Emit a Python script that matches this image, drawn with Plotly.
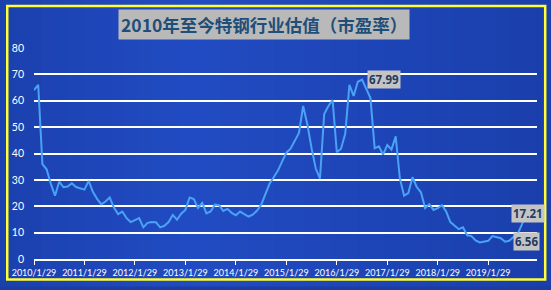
import plotly.graph_objects as go

# ---- data ----
months = [f"{2010 + i // 12}/{i % 12 + 1}/29" for i in range(118)]
pe = [
    64, 66, 36, 34, 28.5, 24, 29.3, 27.2, 27.5, 28.7, 27.3, 26.8,      # 2010
    26.3, 29.6, 25.5, 22.8, 20.7, 21.8, 23.3, 19.5, 17, 18, 15.5, 14,   # 2011
    14.8, 15.5, 12, 13.7, 14, 13.9, 12, 12.6, 14, 16.7, 14.9, 17.2,     # 2012
    18.6, 23.3, 22.7, 19.4, 21.3, 17.3, 18, 20.6, 20.4, 18.2, 19, 17.5, # 2013
    16.6, 18, 17, 16.1, 16.8, 18.3, 20.5, 24.6, 28.5, 31, 33.5, 37,     # 2014
    40.3, 41.8, 45, 47.8, 58, 51, 42, 34.3, 30.5, 55, 58, 60.3,         # 2015
    40.5, 41.8, 47.5, 66, 61.8, 67.2, 67.99, 64.3, 61, 42, 42.7, 39.6,  # 2016
    43.2, 41.5, 46.5, 30.5, 24, 25, 31, 27.3, 25.3, 19.3, 20.8, 18.6,   # 2017
    19.3, 20.4, 18, 14, 12.8, 11.3, 12, 9, 8.7, 7, 6.3, 6.5,            # 2018
    6.9, 8.7, 8.2, 7.9, 6.56, 6.9, 8.3, 9.5, 13, 17.21,                 # 2019
]
tick_labels = [f"{y}/1/29" for y in range(2010, 2020)]
tick_vals = [f"{y}/1/29" for y in range(2010, 2020)]
y_ticks = [0, 10, 20, 30, 40, 50, 60, 70, 80]
title_text = "2010年至今特钢行业估值（市盈率）"
labelled = [(78, "67.99", "left", 5), (112, "6.56", "left", 8), (117, "17.21", "center", 2)]

fig = go.Figure()
fig.add_trace(go.Scatter(
    x=months, y=pe, mode="lines",
    line=dict(color="#4aa2f5", width=2),
    hoverinfo="skip", showlegend=False,
))

for idx, txt, anchor, shift in labelled:
    fig.add_annotation(
        x=months[idx], y=pe[idx], xref="x", yref="y", text=f"<b>{txt}</b>",
        showarrow=False, xanchor=anchor, yanchor="middle", xshift=shift,
        bgcolor="#c4c4c4", borderpad=1,
        font=dict(family="Noto Sans, DejaVu Sans, sans-serif", size=11.5, color="#233a5e"),
    )

fig.add_annotation(
    x=0.4567, y=1.1106, xref="paper", yref="paper", text=f"<b>{title_text}</b>",
    showarrow=False, xanchor="center", yanchor="middle",
    bgcolor="#b9b9b9", borderpad=2,
    font=dict(family="Noto Sans CJK SC", size=17.5, color="#1f4e79"),
)

# subtle horizontal background gradient (decoration only)
n_strips = 40
left_px, right_px = -34.0, 518.0
for i in range(n_strips):
    t = (i + 0.5) / n_strips
    # lighter towards the left-centre, darker at the right edge
    if t < 0.35:
        k = 0.6 + 0.4 * (t / 0.35)
    else:
        k = 1.0 - 0.45 * ((t - 0.35) / 0.65)
    r = int(18 + 16 * k)
    g = int(48 + 28 * k)
    b = int(145 + 50 * k)
    x0 = (left_px + (right_px - left_px) * i / n_strips) / 504.0
    x1 = (left_px + (right_px - left_px) * (i + 1) / n_strips) / 504.0
    fig.add_shape(
        type="rect", xref="paper", yref="paper", x0=x0, x1=x1 + 0.002,
        y0=-0.13, y1=1.23, line=dict(width=0),
        fillcolor=f"rgb({r},{g},{b})", layer="below",
    )

fig.add_shape(
    type="rect", xref="paper", yref="paper",
    x0=-0.0532, x1=1.0163, y0=-0.0976, y1=1.1989,
    line=dict(color="#ffff33", width=2.5), fillcolor="rgba(0,0,0,0)", layer="above",
)

fig.update_layout(
    width=551, height=290,
    margin=dict(l=33.3, r=13.7, t=48.3, b=26.5),
    paper_bgcolor="#1b3d9f", plot_bgcolor="rgba(0,0,0,0)",
    font=dict(family="Lato, Noto Sans, sans-serif", color="white"),
    xaxis=dict(
        type="category", range=[0, 119.6],
        tickmode="array", tickvals=tick_vals, ticktext=tick_labels,
        tickfont=dict(size=9, color="white"),
        showgrid=False, showline=True, linecolor="white", linewidth=1.5,
        ticks="outside", ticklen=4, tickcolor="white", tickwidth=1,
        zeroline=False, fixedrange=True,
    ),
    yaxis=dict(
        range=[0, 80], tickmode="array", tickvals=y_ticks,
        tickfont=dict(size=10.5, color="white"),
        showgrid=True, gridcolor="white", gridwidth=1.5,
        showline=False, zeroline=False, ticks="", ticklabelstandoff=9,
        fixedrange=True,
    ),
)

fig.write_html("out.html")
